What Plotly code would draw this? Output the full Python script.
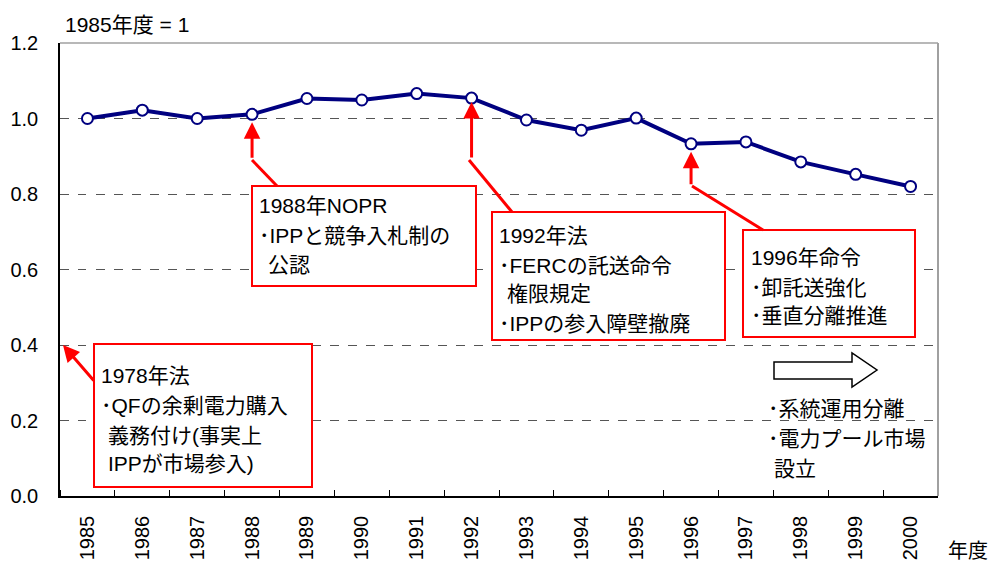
import plotly.graph_objects as go

# data
years = [str(y) for y in range(1985, 2001)]
index_values = [1.00, 1.022, 1.00, 1.011, 1.053, 1.049, 1.066, 1.054,
                0.996, 0.969, 1.001, 0.933, 0.938, 0.885, 0.852, 0.820]
y_ticks = [0.0, 0.2, 0.4, 0.6, 0.8, 1.0, 1.2]

# callout texts
box_1978 = ["1978年法", "･QFの余剰電力購入", "義務付け(事実上", "IPPが市場参入)"]
box_1988 = ["1988年NOPR", "･IPPと競争入札制の", "公認"]
box_1992 = ["1992年法", "･FERCの託送命令", "権限規定", "･IPPの参入障壁撤廃"]
box_1996 = ["1996年命令", "･卸託送強化", "･垂直分離推進"]
pool_text = ["･系統運用分離", "･電力プール市場", "設立"]

FONT = "Liberation Sans, Arial, Noto Sans CJK JP, sans-serif"
W, H = 994, 565
L, R, T, B = 60, 938, 43, 496


def px(x):
    return (x - L) / (R - L)


def py(y):
    return (B - y) / (B - T)


fig = go.Figure()
fig.add_trace(go.Scatter(
    x=list(range(len(years))), y=index_values, mode='lines+markers',
    line=dict(color='#000080', width=4),
    marker=dict(size=11, color='white', line=dict(color='#000080', width=2)),
    showlegend=False, cliponaxis=False
))

shapes = []
annotations = []

# frame: grey top and right edges
shapes.append(dict(type='line', xref='paper', yref='paper', x0=0, x1=1, y0=1, y1=1,
                   line=dict(color='#a0a0a0', width=1.5)))
shapes.append(dict(type='line', xref='paper', yref='paper', x0=1, x1=1, y0=0, y1=1,
                   line=dict(color='#a0a0a0', width=2)))


def add_box(x0, y0, x1, y1):
    shapes.append(dict(type='rect', xref='paper', yref='paper',
                       x0=px(x0), x1=px(x1), y0=py(y1), y1=py(y0),
                       line=dict(color='red', width=2), fillcolor='white', layer='above'))


def add_lines(lines, xs, ys):
    for txt, x, y in zip(lines, xs, ys):
        annotations.append(dict(text=txt, xref='paper', yref='paper', x=px(x), y=py(y),
                                xanchor='left', yanchor='middle', showarrow=False,
                                font=dict(size=21, color='black', family=FONT)))


def add_connector(pts):
    path = 'M ' + ' L '.join(f'{px(a)},{py(b)}' for a, b in pts)
    shapes.append(dict(type='path', xref='paper', yref='paper', path=path,
                       line=dict(color='red', width=3), layer='above'))


def add_arrow_to_point(year, tail_offset, standoff=8):
    i = years.index(year)
    annotations.append(dict(x=i, y=index_values[i], xref='x', yref='y', text='',
                            showarrow=True, arrowhead=2, arrowsize=1.1, arrowwidth=3,
                            arrowcolor='red', ax=0, ay=tail_offset, standoff=standoff))


# 1978
add_box(94, 344, 312, 487)
add_lines(box_1978, [99, 99, 106, 106], [375, 405, 435, 463])
annotations.append(dict(x=px(63), y=py(345), xref='paper', yref='paper', text='',
                        showarrow=True, arrowhead=2, arrowsize=1.1, arrowwidth=3,
                        arrowcolor='red', ax=32, ay=37))

# 1988
add_box(252, 186, 476, 286)
add_lines(box_1988, [257, 257, 266], [205, 235, 264])
add_connector([(252, 160), (277, 186)])
add_arrow_to_point('1988', 45)

# 1992
add_box(492, 212, 725, 340)
add_lines(box_1992, [497, 497, 505, 497], [235, 265, 293, 323])
add_connector([(469, 160), (512, 212)])
add_arrow_to_point('1992', 61, standoff=4)

# 1996
add_box(743, 230, 915, 337)
add_lines(box_1996, [749, 749, 749], [257, 287, 315])
add_connector([(692, 186), (763, 230)])
add_arrow_to_point('1996', 42)

# outlined block arrow and pool text
block = [(774, 362), (852, 362), (852, 353), (877, 370), (852, 387), (852, 379), (774, 379)]
shapes.append(dict(type='path', xref='paper', yref='paper',
                   path='M ' + ' L '.join(f'{px(a)},{py(b)}' for a, b in block) + ' Z',
                   line=dict(color='black', width=1.5), fillcolor='white', layer='above'))
add_lines(pool_text, [766, 766, 772], [408, 438, 468])

# axis captions
annotations.append(dict(text='1985年度 = 1', xref='paper', yref='paper', x=px(63), y=py(24),
                        xanchor='left', yanchor='middle', showarrow=False,
                        font=dict(size=21, color='black', family=FONT)))
annotations.append(dict(text='年度', xref='paper', yref='paper', x=px(946), y=py(551),
                        xanchor='left', yanchor='middle', showarrow=False,
                        font=dict(size=20, color='black', family=FONT)))

fig.update_layout(
    width=W, height=H,
    margin=dict(l=L, r=W - R, t=T, b=H - B, autoexpand=False),
    paper_bgcolor='white', plot_bgcolor='white',
    font=dict(family=FONT, size=20, color='black'),
    shapes=shapes, annotations=annotations,
    xaxis=dict(range=[-0.5, 15.5], tickvals=list(range(len(years))), ticktext=years,
               showline=True, linecolor='black', linewidth=1.5, ticks='',
               tickangle=-90, showgrid=False, automargin=False,
               tickfont=dict(size=20), ticklabelstandoff=10,
               minor=dict(tickvals=[i + 0.5 for i in range(-1, len(years))],
                          ticks='inside', ticklen=6, tickcolor='black', showgrid=False)),
    yaxis=dict(range=[0, 1.2], tickvals=y_ticks, tickformat='.1f', showline=True,
               linecolor='black', linewidth=1.5, showgrid=True, gridcolor='#555555',
               griddash='dash', gridwidth=1, zeroline=False, ticks='', automargin=False,
               tickfont=dict(size=20), ticklabelstandoff=16),
)

# page body has a default 8px margin; drop it so the figure sits at the corner
fig.write_html("out.html", config={'displayModeBar': False},
               post_script="document.body.style.margin='0';")
